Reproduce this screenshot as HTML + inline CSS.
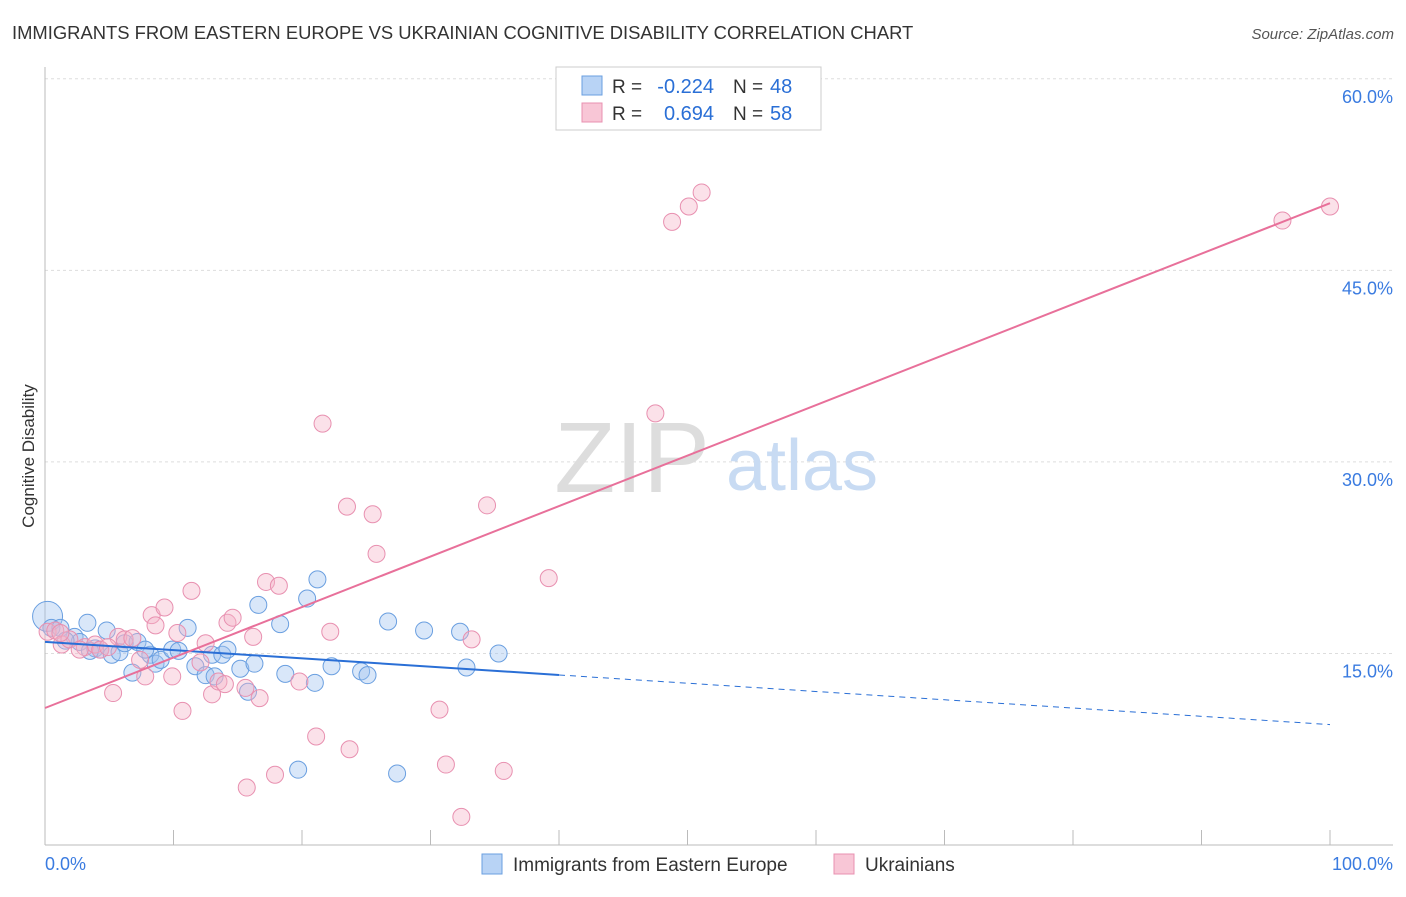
<!DOCTYPE html>
<html><head><meta charset="utf-8">
<style>
body{margin:0;background:#fff;font-family:"Liberation Sans",sans-serif;}
svg text{font-family:"Liberation Sans",sans-serif;}
</style></head>
<body>
<svg width="1406" height="892" viewBox="0 0 1406 892" xmlns="http://www.w3.org/2000/svg">
<text x="12" y="39" font-size="18.4" fill="#333">IMMIGRANTS FROM EASTERN EUROPE VS UKRAINIAN COGNITIVE DISABILITY CORRELATION CHART</text>
<text x="1394" y="39" font-size="15" fill="#555" font-style="italic" text-anchor="end">Source: ZipAtlas.com</text>
<g id="grid"></g>
<text x="632" y="492" font-size="100" fill="#ddd" font-family="Liberation Serif" text-anchor="middle">ZIP</text>
<text x="802" y="490" font-size="72" fill="#c8dbf3" text-anchor="middle">atlas</text>
<text transform="translate(34,456) rotate(-90)" font-size="17" fill="#333" text-anchor="middle">Cognitive Disability</text>
<g id="marks"></g>
<g>
<rect x="556" y="67" width="265" height="63" fill="#fff" stroke="#ccc"/>
<rect x="582" y="76" width="20" height="19" fill="#b8d3f5" stroke="#6a9fe0"/>
<rect x="582" y="103" width="20" height="19" fill="#f8c6d6" stroke="#e890b0"/>
<text x="612" y="93" font-size="19" fill="#333">R =</text>
<text x="714" y="93" font-size="20" fill="#2a6fd6" text-anchor="end">-0.224</text>
<text x="733" y="93" font-size="19" fill="#333">N =</text>
<text x="770" y="93" font-size="20" fill="#2a6fd6">48</text>
<text x="612" y="120" font-size="19" fill="#333">R =</text>
<text x="714" y="120" font-size="20" fill="#2a6fd6" text-anchor="end">0.694</text>
<text x="733" y="120" font-size="19" fill="#333">N =</text>
<text x="770" y="120" font-size="20" fill="#2a6fd6">58</text>
</g>
<g>
<rect x="482" y="854" width="20" height="20" fill="#b8d3f5" stroke="#6a9fe0"/>
<text x="513" y="871" font-size="19" fill="#333">Immigrants from Eastern Europe</text>
<rect x="834" y="854" width="20" height="20" fill="#f8c6d6" stroke="#e890b0"/>
<text x="865" y="871" font-size="19" fill="#333">Ukrainians</text>
</g>
</svg>
<script>
const yTicks=[15,30,45,60];
const xTickLabels=["0.0%","100.0%"];
const blueX=[0.2,0.5,1.2,2.3,3.3,2.7,3.9,4.3,4.8,5.2,5.8,6.2,7.2,6.8,8.2,8.6,9.0,9.9,10.4,11.1,11.7,12.5,13.0,13.2,13.8,14.2,15.2,15.8,16.3,16.6,18.3,18.7,20.4,21.0,21.2,22.3,24.6,25.1,26.7,27.4,29.5,32.3,32.8,35.3,19.7,7.8,1.6,3.5];
const blueY=[17.9,17.0,17.0,16.3,17.4,15.9,15.4,15.3,16.8,14.9,15.1,15.8,15.9,13.5,14.9,14.2,14.5,15.3,15.2,17.0,14.0,13.3,14.9,13.2,14.9,15.3,13.8,12.0,14.2,18.8,17.3,13.4,19.3,12.7,20.8,14.0,13.6,13.3,17.5,5.6,16.8,16.7,13.9,15.0,5.9,15.3,16.0,15.2];
const pinkX=[0.2,0.8,1.3,1.9,3.1,3.9,4.3,5.3,5.7,6.2,6.8,7.4,7.8,8.3,8.6,9.3,9.9,10.3,10.7,11.4,12.1,12.5,13.0,13.5,14.0,14.2,14.6,15.6,15.7,16.2,16.7,17.2,17.9,18.2,19.8,21.1,21.6,22.2,23.5,23.7,25.5,25.8,30.7,31.2,32.4,33.2,34.4,35.7,39.2,47.5,48.8,50.1,51.1,96.3,100.0,1.2,2.7,4.9];
const pinkY=[16.7,16.8,15.7,16.1,15.5,15.7,15.3,11.9,16.3,16.1,16.2,14.5,13.2,18.0,17.2,18.6,13.2,16.6,10.5,19.9,14.3,15.8,11.8,12.8,12.6,17.4,17.8,12.3,4.5,16.3,11.5,20.6,5.5,20.3,12.8,8.5,33.0,16.7,26.5,7.5,25.9,22.8,10.6,6.3,2.2,16.1,26.6,5.8,20.9,33.8,48.8,50.0,51.1,48.9,50.0,16.6,15.3,15.5];
const X0=45,X1=1330,YB=845,PY=12.77;
const sx=v=>X0+(X1-X0)*v/100, sy=v=>YB-v*PY;
const NS="http://www.w3.org/2000/svg";
const grid=document.getElementById('grid'), marks=document.getElementById('marks');
function mk(tag,attrs,parent){const e=document.createElementNS(NS,tag);for(const k in attrs)e.setAttribute(k,attrs[k]);parent.appendChild(e);return e;}
yTicks.forEach(t=>{
  const l=mk('line',{x1:45,x2:1393,y1:sy(t),y2:sy(t),stroke:'#ddd','stroke-dasharray':'3,3'},grid);
  
  
  const tx=mk('text',{x:1393,y:sy(t)+24,'font-size':18,fill:'#3a7be0','text-anchor':'end'},grid);
  tx.textContent=t.toFixed(1)+'%';
  
  
});
const ax=mk('line',{x1:45,x2:1393,y1:YB,y2:YB,stroke:'#bbb'},grid);


const ay=mk('line',{x1:45,x2:45,y1:67,y2:YB,stroke:'#bbb'},grid);


for(let i=0;i<=10;i++){
  const t=mk('line',{x1:sx(i*10),x2:sx(i*10),y1:830,y2:YB,stroke:'#bbb'},grid);
  
  
}
const xl0=mk('text',{x:45,y:870,'font-size':18,fill:'#3a7be0'},grid);xl0.textContent=xTickLabels[0];


const xl1=mk('text',{x:1393,y:870,'font-size':18,fill:'#3a7be0','text-anchor':'end'},grid);xl1.textContent=xTickLabels[1];


function fit(xs,ys){const n=xs.length;let mx=0,my=0;xs.forEach((x,i)=>{mx+=x;my+=ys[i];});mx/=n;my/=n;let a=0,b=0;xs.forEach((x,i)=>{a+=(x-mx)*(ys[i]-my);b+=(x-mx)*(x-mx);});const s=a/b;return [s,my-s*mx];}
blueX.forEach((x,i)=>{
  const c=mk('circle',{cx:sx(x),cy:sy(blueY[i]),r:i==0?15:8.5,fill:'rgba(160,196,240,0.4)',stroke:'#6a9fe0','stroke-width':1},marks);
  
  
});
pinkX.forEach((x,i)=>{
  const c=mk('circle',{cx:sx(x),cy:sy(pinkY[i]),r:8.5,fill:'rgba(244,180,200,0.4)',stroke:'#e890b0','stroke-width':1},marks);
  
  
});
const [bs,bi]=fit(blueX,blueY);
const bl=mk('line',{x1:sx(0),y1:sy(bi),x2:sx(40),y2:sy(bi+bs*40),stroke:'#2a6fd6','stroke-width':2},marks);


const bd=mk('line',{x1:sx(40),y1:sy(bi+bs*40),x2:sx(100),y2:sy(bi+bs*100),stroke:'#2a6fd6','stroke-width':1,'stroke-dasharray':'6,5'},marks);


const [ps,pi]=fit(pinkX,pinkY);
const pl=mk('line',{x1:sx(0),y1:sy(pi),x2:sx(100),y2:sy(pi+ps*100),stroke:'#e8709a','stroke-width':2},marks);


</script>
</body></html>
